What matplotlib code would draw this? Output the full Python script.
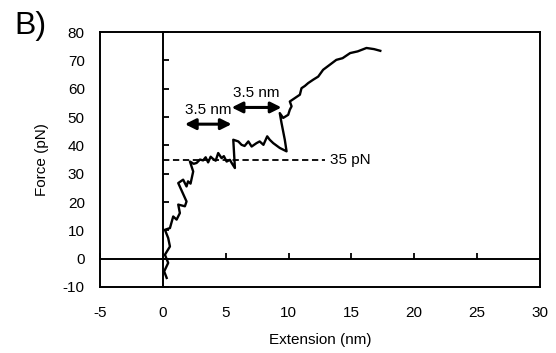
import matplotlib.pyplot as plt

plt.rcParams['font.family'] = ['Liberation Sans', 'DejaVu Sans']
plt.rcParams['axes.unicode_minus'] = False

# force-extension trace
extension = [0.30, 0.10, 0.42, 0.16, 0.56, 0.42, 0.16, 0.56, 0.82, 1.09,
             1.35, 1.22, 1.75, 1.88, 1.22, 1.61, 1.88, 2.00, 2.20, 2.41,
             2.15, 2.45, 2.68, 2.95, 3.20, 3.40, 3.60, 3.80, 4.00, 4.20,
             4.40, 4.67, 4.85, 5.07, 5.33, 5.50, 5.73, 5.60, 6.00, 6.26,
             6.50, 6.80, 7.06, 7.45, 7.70, 8.00, 8.30, 8.50, 8.78, 9.30,
             9.84, 9.70, 9.44, 9.30, 9.57, 9.97, 10.10, 10.24, 10.10, 10.50,
             10.90, 11.03, 11.30, 11.56, 11.96, 12.36, 12.75, 13.29, 13.80, 14.30,
             14.90, 15.50, 16.20, 16.80, 17.30]
force = [-6.8, -4.5, -1.5, 1.4, 4.3, 7.3, 10.2, 10.8, 14.9, 13.8,
         16.1, 19.1, 18.5, 20.2, 26.7, 27.9, 25.5, 27.3, 26.5, 30.8,
         34.3, 33.5, 33.8, 35.0, 34.7, 35.8, 34.0, 36.0, 35.2, 34.6,
         37.3, 35.5, 36.2, 34.3, 34.9, 33.6, 32.0, 42.0, 41.4, 40.2,
         39.8, 41.4, 39.6, 40.8, 41.4, 40.2, 43.2, 42.0, 40.8, 39.1,
         37.9, 42.0, 47.9, 51.4, 49.7, 50.8, 52.6, 53.8, 55.5, 56.7,
         57.9, 60.2, 61.0, 62.0, 63.2, 64.3, 66.7, 68.5, 70.2, 70.8,
         72.6, 73.2, 74.4, 74.0, 73.4]

plateau_force = 35
plateau_end = 12.9
step_arrows = [(1.75, 5.47, 47.5), (5.47, 9.44, 53.4)]
step_labels = ['3.5 nm', '3.5 nm']

x_ticks = list(range(-5, 31, 5))
y_ticks = list(range(-10, 81, 10))

fig = plt.figure(figsize=(5.56, 3.53), dpi=100)
rect = [0.18, 0.187, 0.791, 0.722]

# outer frame carrying the tick labels
frame = fig.add_axes(rect)
frame.set_xlim(-5, 30)
frame.set_ylim(-10, 80)
frame.set_xticks(x_ticks)
frame.set_yticks(y_ticks)
frame.tick_params(length=0, labelsize=11)
frame.tick_params(axis='y', pad=11)
frame.tick_params(axis='x', pad=14)
for s in frame.spines.values():
    s.set_linewidth(1.4)
frame.set_xlabel('Extension (nm)', fontsize=11, labelpad=9)
frame.set_ylabel('Force (pN)', fontsize=11, labelpad=10)

# data axes with axes crossing at zero
ax = fig.add_axes(rect)
ax.set_xlim(-5, 30)
ax.set_ylim(-10, 80)
ax.set_xticks(x_ticks)
ax.set_yticks(y_ticks)
ax.patch.set_visible(False)
ax.spines['left'].set_position(('data', 0))
ax.spines['bottom'].set_position(('data', 0))
ax.spines['top'].set_visible(False)
ax.spines['right'].set_visible(False)
ax.spines['left'].set_linewidth(1.4)
ax.spines['bottom'].set_linewidth(1.4)
ax.tick_params(direction='in', length=4, width=1.3,
               labelleft=False, labelbottom=False)

ax.plot(extension, force, color='black', lw=1.7)
ax.hlines(plateau_force, 0, plateau_end, colors='black', linestyles=(0, (3.5, 2)), lw=1.3)
ax.text(plateau_end + 0.4, plateau_force, '35 pN', fontsize=11, va='center')

for (x0, x1, y), lab in zip(step_arrows, step_labels):
    ax.annotate('', xy=(x0, y), xytext=(x1, y),
                arrowprops=dict(arrowstyle='<|-|>', color='black', lw=2.2,
                                mutation_scale=16, shrinkA=0, shrinkB=0))
    ax.text((x0 + x1) / 2, y + 2.5, lab, fontsize=11, ha='center', va='bottom')

fig.text(0.025, 0.905, 'B)', fontsize=23)

fig.savefig('out.png', dpi=100)
